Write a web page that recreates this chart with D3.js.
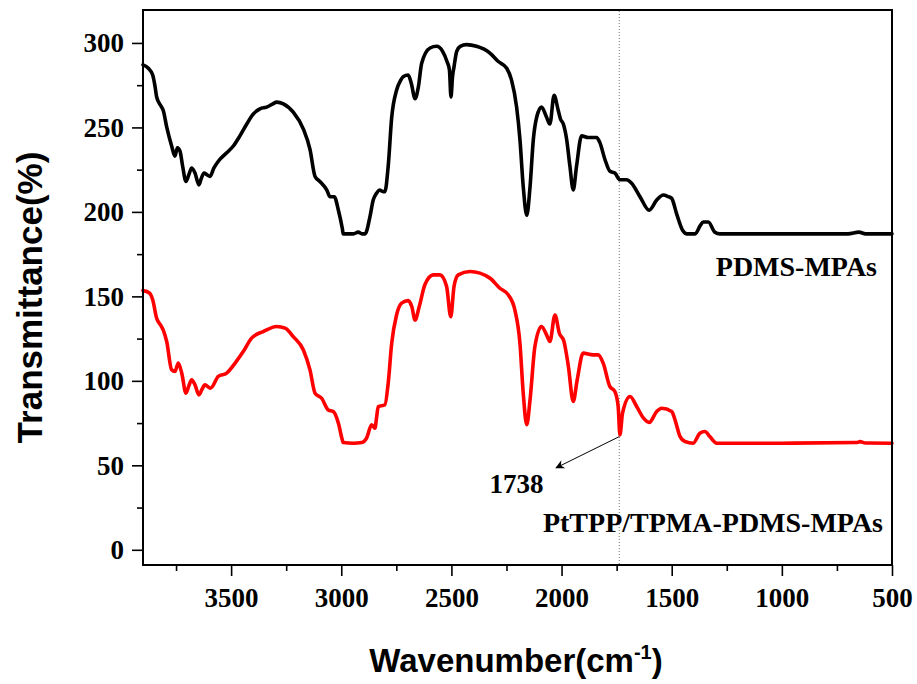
<!DOCTYPE html>
<html>
<head>
<meta charset="utf-8">
<script src="https://cdn.jsdelivr.net/npm/d3@7"></script>
<style>
  html, body { margin: 0; padding: 0; background: #fff; }
  svg { display: block; }
</style>
</head>
<body>
<svg id="chart" width="917" height="684"></svg>
<script>
// ---- data ----
const xMajorTicks = [3500, 3000, 2500, 2000, 1500, 1000, 500];
const xMinorTicks = [3750, 3250, 2750, 2250, 1750, 1250, 750];
const yMajorTicks = [0, 50, 100, 150, 200, 250, 300];
const yMinorTicks = [25, 75, 125, 175, 225, 275];

const seriesNames = ["PDMS-MPAs", "PtTPP/TPMA-PDMS-MPAs"];

const wnPDMS = [3900,3876,3856,3845,3838,3820,3808,3792,3770,3755,3744,3732,3720,3705,3692,3679,3664,3646,3635,3623,3610,3596,3578,3558,3520,3490,3460,3429,3399,3369,3339,3310,3293,3263,3218,3172,3142,3119,3097,3066,3051,3032,3013,2995,2991,2945,2923,2905,2892,2870,2855,2840,2827,2810,2802,2787,2771,2749,2730,2719,2696,2682,2665,2650,2635,2597,2567,2540,2520,2509,2502,2495,2488,2476,2460,2431,2386,2325,2287,2249,2227,2204,2189,2174,2158,2143,2128,2113,2091,2068,2053,2034,2015,2005,1992,1977,1962,1947,1932,1909,1879,1841,1826,1803,1780,1758,1735,1705,1682,1644,1602,1568,1538,1515,1500,1478,1450,1430,1417,1394,1370,1357,1334,1304,1281,1000,700,650,620,500];
const tPDMS  = [287,285,281,274,268,263,260,250,239,233,238,236,227,218,222,226,223,216,220,223,222,221,226,230,235,239,245,252,258,261,262,264,265,264,259,249,237,221,218,213,209,209,201,190,187,187,188,187,187,197,207,211,213,212,212,227,256,272,278,280,281,276,267,274,288,297,298,295,289,284,268,280,286,295,298,299,298,294,289,285,278,262,243,215,198,215,243,256,262,256,252,269,260,255,252,243,227,213,227,245,244,244,241,231,224,223,219,219,217,209,201,207,210,209,208,199,189,187,187,187,192,194,194,188,187,187,187,188,187,187];

const wnPt = [3900,3871,3856,3838,3820,3808,3792,3770,3755,3740,3724,3705,3692,3679,3664,3646,3632,3619,3593,3558,3520,3482,3445,3407,3354,3293,3255,3218,3172,3142,3119,3089,3059,3036,3013,2995,2991,2945,2907,2885,2862,2847,2840,2832,2802,2787,2771,2749,2726,2696,2680,2665,2646,2620,2582,2552,2522,2503,2488,2469,2416,2325,2280,2242,2212,2189,2174,2158,2143,2121,2091,2068,2053,2030,2010,1989,1969,1947,1929,1902,1857,1834,1811,1781,1758,1743,1735,1723,1689,1659,1628,1602,1568,1546,1500,1485,1462,1440,1402,1372,1349,1327,1296,1000,660,645,620,500];
const tPt  = [153.4,152,148,137,133,130,123,106.5,105.5,110.5,104.5,92.7,97,100.6,97.6,91.7,95,97.6,95.7,102.6,104.6,110.5,117.3,125.3,129.2,132.2,131.2,126.2,118.3,106.5,92.7,89.7,82.8,81.8,74.9,65,63.5,63.1,63.5,66.1,74,72,78,84.8,85.8,98.6,122.3,139,146,147.5,144,136,144,157,162.7,162.7,156,138,156,162.7,164.7,160.8,154.8,150.9,142,122.3,92.7,74,88.8,120.3,132.2,127.2,123.3,139,128.2,123.3,108.5,87.8,100.6,116.4,115.4,115.4,110.5,96.7,93.7,84.8,68,81,90.7,84.8,77.9,75.4,81.9,83.8,81.9,76.9,67,64.1,63.1,69,70,67,63.1,63.1,63.5,64,63.2,63.1];

const markedPeak = 1738;
const arrowFrom = [1738, 67];
const arrowTo = [2025, 48.5];
const peakLabelPos = [2205, 33.5];

// ---- layout ----
const svg = d3.select("#chart");
const L = 143, R = 892, T = 10, B = 565;
const x = d3.scaleLinear().domain([3900, 500]).range([L, R]);
const y = d3.scaleLinear().domain([-9, 319.5]).range([B, T]);

const serif = "'Liberation Serif','Times New Roman',serif";
const sans = "'Liberation Sans',Arial,sans-serif";

// dotted marker line
svg.append("line")
  .attr("x1", x(markedPeak)).attr("x2", x(markedPeak))
  .attr("y1", T + 1).attr("y2", B)
  .attr("stroke", "#777").attr("stroke-width", 1)
  .attr("stroke-dasharray", "1,2");

// curves
const line = (wn, t) => d3.line()
  .x(i => x(wn[i])).y(i => y(t[i]))
  .curve(d3.curveMonotoneX)(d3.range(wn.length));

svg.append("path").attr("d", line(wnPDMS, tPDMS))
  .attr("fill", "none").attr("stroke", "#000").attr("stroke-width", 3.6)
  .attr("stroke-linejoin", "round").attr("stroke-linecap", "round");
svg.append("path").attr("d", line(wnPt, tPt))
  .attr("fill", "none").attr("stroke", "#ff0000").attr("stroke-width", 3.6)
  .attr("stroke-linejoin", "round").attr("stroke-linecap", "round");

// axes
const gx = svg.append("g").attr("transform", `translate(0,${B})`)
  .call(d3.axisBottom(x).tickValues(xMajorTicks).tickSize(11).tickSizeOuter(0).tickFormat(d3.format("d")));
const gxm = svg.append("g").attr("transform", `translate(0,${B})`)
  .call(d3.axisBottom(x).tickValues(xMinorTicks).tickSize(6).tickSizeOuter(0).tickFormat(""));
const gy = svg.append("g").attr("transform", `translate(${L},0)`)
  .call(d3.axisLeft(y).tickValues(yMajorTicks).tickSize(11).tickSizeOuter(0).tickFormat(d3.format("d")));
const gym = svg.append("g").attr("transform", `translate(${L},0)`)
  .call(d3.axisLeft(y).tickValues(yMinorTicks).tickSize(6).tickSizeOuter(0).tickFormat(""));

[gx, gxm, gy, gym].forEach(g => {
  g.select(".domain").remove();
  g.selectAll(".tick line").attr("stroke", "#000").attr("stroke-width", 1.6);
});
gx.selectAll(".tick text")
  .attr("font-family", serif).attr("font-weight", "bold").attr("font-size", 27)
  .attr("fill", "#000").attr("y", 42).attr("dy", 0);
gy.selectAll(".tick text")
  .attr("font-family", serif).attr("font-weight", "bold").attr("font-size", 27)
  .attr("fill", "#000").attr("x", -19).attr("dy", "0.33em");

// frame
svg.append("rect").attr("x", L).attr("y", T).attr("width", R - L).attr("height", B - T)
  .attr("fill", "none").attr("stroke", "#000").attr("stroke-width", 2);

// axis titles
svg.append("text")
  .attr("transform", `translate(42,${(T + B) / 2 + 10}) rotate(-90)`)
  .attr("text-anchor", "middle")
  .attr("font-family", sans).attr("font-weight", "bold").attr("font-size", 35)
  .attr("fill", "#000")
  .text("Transmittance(%)");

const xt = svg.append("text")
  .attr("x", 516).attr("y", 672)
  .attr("text-anchor", "middle")
  .attr("font-family", sans).attr("font-weight", "bold").attr("font-size", 33)
  .attr("fill", "#000");
xt.append("tspan").text("Wavenumber(cm");
xt.append("tspan").attr("dy", -13).attr("font-size", 20).text("-1");
xt.append("tspan").attr("dy", 13).text(")");

// series labels
svg.append("text").attr("x", 877).attr("y", 276).attr("text-anchor", "end")
  .attr("font-family", serif).attr("font-weight", "bold").attr("font-size", 28)
  .attr("fill", "#000").text(seriesNames[0]);
svg.append("text").attr("x", 883).attr("y", 532).attr("text-anchor", "end")
  .attr("font-family", serif).attr("font-weight", "bold").attr("font-size", 28)
  .attr("fill", "#000").text(seriesNames[1]);

// annotation arrow
svg.append("defs").append("marker")
  .attr("id", "arrowhead").attr("viewBox", "0 0 10 10")
  .attr("refX", 9).attr("refY", 5).attr("markerWidth", 14).attr("markerHeight", 9)
  .attr("markerUnits", "userSpaceOnUse").attr("orient", "auto")
  .append("path").attr("d", "M0,0 L10,5 L0,10 L3,5 Z").attr("fill", "#000");
svg.append("line")
  .attr("x1", x(arrowFrom[0])).attr("y1", y(arrowFrom[1]))
  .attr("x2", x(arrowTo[0])).attr("y2", y(arrowTo[1]))
  .attr("stroke", "#000").attr("stroke-width", 1)
  .attr("marker-end", "url(#arrowhead)");
svg.append("text").attr("x", x(peakLabelPos[0])).attr("y", y(peakLabelPos[1]))
  .attr("text-anchor", "middle")
  .attr("font-family", serif).attr("font-weight", "bold").attr("font-size", 27)
  .attr("fill", "#000").text(String(markedPeak));
</script>
</body>
</html>
